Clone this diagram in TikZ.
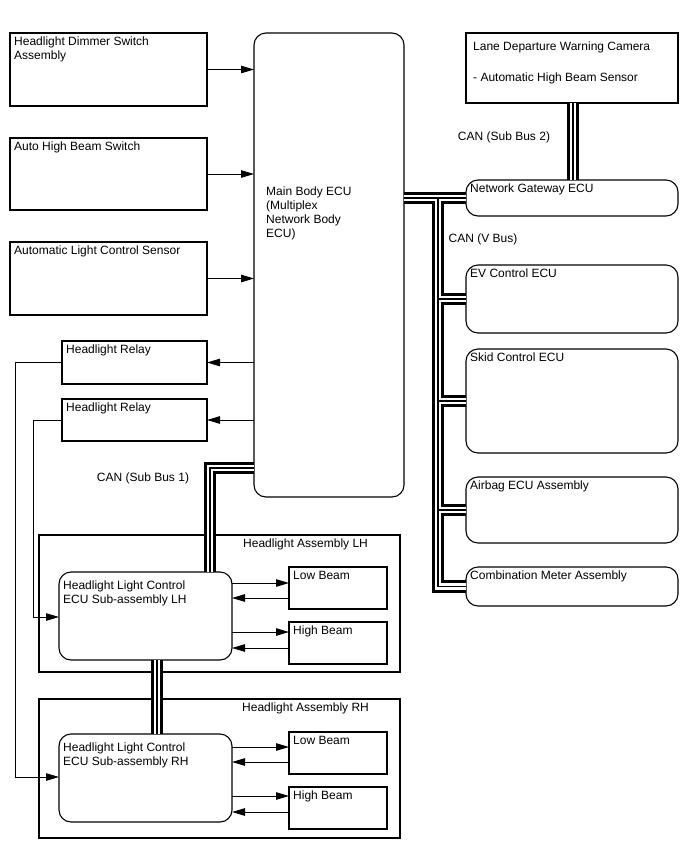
\documentclass[tikz,border=0pt]{standalone}
\usepackage{fontspec}
\setmainfont{Liberation Sans}
\usetikzlibrary{arrows.meta,calc}
\newcommand{\canpaths}{
  (gw.west -| main.east) -- (gw.west)
  (vb) |- (ev.west)
  (vb) |- (skid.west)
  (vb) |- (air.west)
  (vb) -- (vb |- comb.west) -- (comb.west)
  (sb1 -| main.west) -- (sb1) -- (sb1 |- ecul.north)
  ($(ecul.south west)+(98,0)$) -- ($(ecur.north west)+(98,0)$)
  ($(ldw.south west)+(107,0)$) -- ($(gw.north west)+(107,0)$)
}
\begin{document}
\begin{tikzpicture}[x=1pt,y=-1pt,
  font=\fontsize{12}{14}\selectfont,
  box/.style={draw, line width=1.1pt, anchor=north west, inner sep=0pt, outer sep=0pt},
  rbox/.style={box, rounded corners=12pt},
  lbl/.style={anchor=north west, align=left, inner sep=0pt, xshift=4pt, yshift=-4pt},
  conn/.style={line width=0.9pt, -{Triangle[length=13pt,width=7.5pt]}},
  wire/.style={line width=0.9pt},
  busA/.style={line width=12.5pt, black, miter limit=20},
  busB/.style={line width=6.5pt, white, miter limit=20},
  busC/.style={line width=1.2pt, black, miter limit=20},
  canlbl/.style={inner sep=0pt}]
\fill[white] (0,0) rectangle (688,852);
\useasboundingbox (0,0) rectangle (688,852);

% left column
\node[box, minimum width=197, minimum height=73, label={[lbl]north west:Headlight Dimmer Switch\\Assembly}] (dim) at (10,33) {};
\node[box, minimum width=197, minimum height=72, label={[lbl]north west:Auto High Beam Switch}] (ahb) at (10,138) {};
\node[box, minimum width=197, minimum height=73, label={[lbl]north west:Automatic Light Control Sensor}] (alc) at (10,242) {};
\node[box, minimum width=145, minimum height=43, label={[lbl]north west:Headlight Relay}] (rel1) at (62,341) {};
\node[box, minimum width=145, minimum height=42, label={[lbl]north west:Headlight Relay}] (rel2) at (62,399) {};

% main body ECU
\node[rbox, minimum width=150, minimum height=464, label={[lbl, xshift=8pt, yshift=-150pt]north west:Main Body ECU\\(Multiplex\\Network Body\\ECU)}] (main) at (254,33) {};

% right column
\node[box, minimum width=212, minimum height=70, label={[lbl, xshift=3pt, yshift=-5pt]north west:Lane Departure Warning Camera\\[17pt]- Automatic High Beam Sensor}] (ldw) at (466,33) {};
\node[rbox, minimum width=212, minimum height=36, label={[lbl]north west:Network Gateway ECU}] (gw) at (466,180) {};
\node[rbox, minimum width=212, minimum height=68, label={[lbl]north west:EV Control ECU}] (ev) at (466,265) {};
\node[rbox, minimum width=212, minimum height=104, label={[lbl]north west:Skid Control ECU}] (skid) at (466,349) {};
\node[rbox, minimum width=212, minimum height=66, label={[lbl]north west:Airbag ECU Assembly}] (air) at (466,477) {};
\node[rbox, minimum width=212, minimum height=39, label={[lbl]north west:Combination Meter Assembly}] (comb) at (466,567) {};

% headlight assemblies
\node[box, minimum width=361, minimum height=137, label={[lbl, xshift=200pt]north west:Headlight Assembly LH}] (hal) at (39,535) {};
\node[rbox, minimum width=173, minimum height=88, label={[lbl, yshift=-5pt]north west:Headlight Light Control\\ECU Sub-assembly LH}] (ecul) at (59,572) {};
\node[box, minimum width=98, minimum height=42, label={[lbl]north west:Low Beam}] (lowl) at (289,567) {};
\node[box, minimum width=98, minimum height=42, label={[lbl]north west:High Beam}] (highl) at (289,622) {};

\node[box, minimum width=361, minimum height=139, label={[lbl, xshift=199pt]north west:Headlight Assembly RH}] (har) at (39,699) {};
\node[rbox, minimum width=173, minimum height=88, label={[lbl, yshift=-5pt]north west:Headlight Light Control\\ECU Sub-assembly RH}] (ecur) at (59,734) {};
\node[box, minimum width=98, minimum height=42, label={[lbl]north west:Low Beam}] (lowr) at (289,732) {};
\node[box, minimum width=98, minimum height=42, label={[lbl]north west:High Beam}] (highr) at (289,787) {};

% CAN labels
\node[canlbl] (can1) at (143,478) {CAN (Sub Bus 1)};
\node[canlbl] (can2) at (504,137) {CAN (Sub Bus 2)};
\node[canlbl] (canv) at (483,239) {CAN (V Bus)};

% bus helper coordinates
\coordinate (vb) at (438,198);
\coordinate (sb1) at (210,468);
\coordinate (r1) at (15,777);
\coordinate (r2) at (33,617);

% CAN buses
\draw[busA] \canpaths;
\draw[busB] \canpaths;
\draw[busC] \canpaths;

% input arrows
\draw[conn] (dim.east) -- (dim.east -| main.west);
\draw[conn] (ahb.east) -- (ahb.east -| main.west);
\draw[conn] (alc.east) -- (alc.east -| main.west);
\draw[conn] (rel1.east -| main.west) -- (rel1.east);
\draw[conn] (rel2.east -| main.west) -- (rel2.east);

% relay wires
\draw[conn] (rel1.west) -| (r1) -- (r1 -| ecur.west);
\draw[conn] (rel2.west) -| (r2) -- (r2 -| ecul.west);

% beam arrows LH
\draw[conn] (ecul.east |- 0,583) -- (lowl.west |- 0,583);
\draw[conn] (lowl.west |- 0,598) -- (ecul.east |- 0,598);
\draw[conn] (ecul.east |- 0,632) -- (highl.west |- 0,632);
\draw[conn] (highl.west |- 0,648) -- (ecul.east |- 0,648);
% beam arrows RH
\draw[conn] (ecur.east |- 0,747) -- (lowr.west |- 0,747);
\draw[conn] (lowr.west |- 0,762) -- (ecur.east |- 0,762);
\draw[conn] (ecur.east |- 0,796) -- (highr.west |- 0,796);
\draw[conn] (highr.west |- 0,812) -- (ecur.east |- 0,812);
\end{tikzpicture}
\end{document}
